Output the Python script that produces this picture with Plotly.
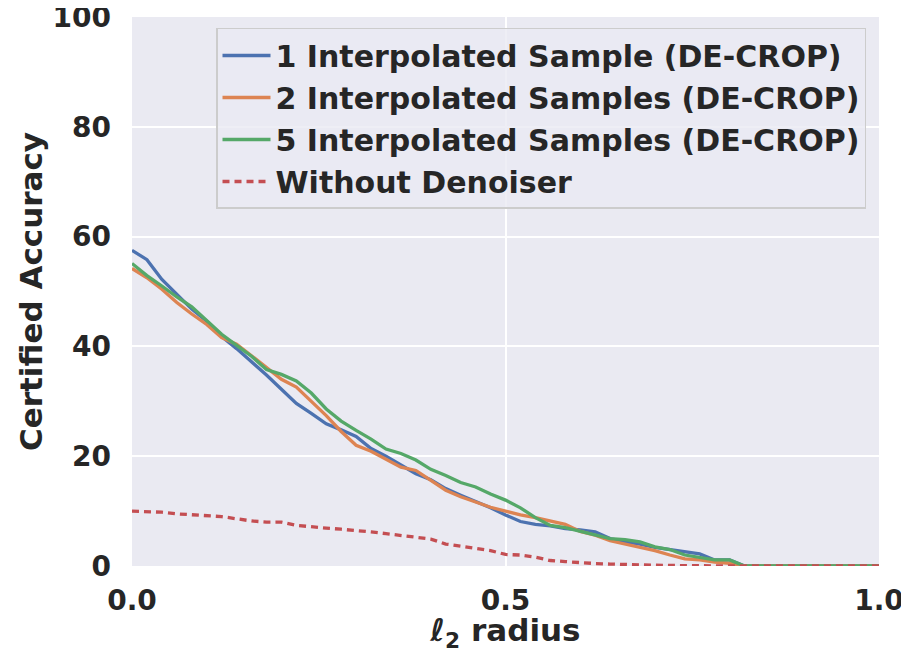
import plotly.graph_objects as go

radius = [round(i * 0.02, 2) for i in range(51)]

acc_1_sample = [57.5, 55.8, 52.2, 49.5, 46.8, 44.6, 41.8, 39.6, 37.2, 34.8,
                32.2, 29.6, 27.8, 25.9, 24.8, 23.6, 21.4, 20.0, 18.4, 16.8,
                15.7, 14.1, 12.9, 11.8, 10.6, 9.3, 8.1, 7.6, 7.3, 6.8,
                6.6, 6.2, 5.0, 4.4, 4.0, 3.4, 3.0, 2.6, 2.2, 1.1,
                1.1, 0, 0, 0, 0, 0, 0, 0, 0, 0, 0]

acc_2_samples = [54.2, 52.5, 50.4, 48.0, 45.9, 44.0, 41.6, 40.4, 38.3, 36.2,
                 34.0, 32.6, 30.0, 27.4, 24.5, 22.0, 20.9, 19.5, 18.0, 17.4,
                 15.6, 13.8, 12.6, 11.7, 10.7, 10.0, 9.3, 8.8, 8.2, 7.6,
                 6.3, 5.6, 4.6, 4.0, 3.5, 2.8, 2.0, 1.3, 1.1, 0.7,
                 0.5, 0, 0, 0, 0, 0, 0, 0, 0, 0, 0]

acc_5_samples = [55.1, 52.9, 51.0, 49.0, 47.2, 44.8, 42.2, 40.2, 38.2, 35.8,
                 34.9, 33.7, 31.5, 28.6, 26.4, 24.7, 23.1, 21.3, 20.5, 19.3,
                 17.6, 16.5, 15.2, 14.4, 13.1, 12.0, 10.6, 8.8, 7.4, 7.0,
                 6.3, 5.7, 5.0, 4.8, 4.4, 3.5, 3.0, 2.0, 1.6, 1.1,
                 1.1, 0, 0, 0, 0, 0, 0, 0, 0, 0, 0]

acc_no_denoiser = [10.0, 9.9, 9.8, 9.5, 9.3, 9.1, 9.0, 8.6, 8.2, 8.0,
                   8.0, 7.4, 7.1, 6.9, 6.7, 6.5, 6.2, 5.9, 5.6, 5.3,
                   4.9, 4.0, 3.6, 3.1, 2.8, 2.1, 2.0, 1.6, 1.0, 0.8,
                   0.6, 0.45, 0.35, 0.25, 0.2, 0.15, 0.1, 0.05, 0, 0,
                   0, 0, 0, 0, 0, 0, 0, 0, 0, 0, 0]

x_ticks = [0, 0.5, 1]
x_tick_labels = ["0.0", "0.5", "1.0"]
y_ticks = [0, 20, 40, 60, 80, 100]

names = ["1 Interpolated Sample (DE-CROP)",
         "2 Interpolated Samples (DE-CROP)",
         "5 Interpolated Samples (DE-CROP)",
         "Without Denoiser"]
colors = ["#4C72B0", "#DD8452", "#55A868", "#C44E52"]
series = [acc_1_sample, acc_2_samples, acc_5_samples, acc_no_denoiser]
dashes = ["solid", "solid", "solid", "7px,5px"]

fig = go.Figure()
for name, ys, c, d in zip(names, series, colors, dashes):
    fig.add_trace(go.Scatter(x=radius, y=ys, mode="lines", name=name,
                             line=dict(color=c, width=3.3, dash=d)))

font_family = "DejaVu Sans"
txt = "#262626"
# the page body adds an 8px offset, so the figure is sized to fill the window
fig.update_layout(
    width=901, height=645,
    margin=dict(l=124, r=30, t=9, b=87),
    paper_bgcolor="white",
    plot_bgcolor="#EAEAF2",
    font=dict(family=font_family, color=txt),
    legend=dict(
        x=0.9826, y=0.98, xanchor="right", yanchor="top",
        bgcolor="rgba(234,234,242,0.8)", bordercolor="#CCCCCC", borderwidth=1.5,
        itemwidth=48,
        font=dict(size=30, family=font_family, color=txt, weight="bold"),
    ),
    showlegend=True,
)
fig.update_xaxes(
    range=[0, 1], tickvals=x_ticks, ticktext=x_tick_labels,
    showgrid=True, gridcolor="white", gridwidth=1.5, zeroline=False,
    showline=False, ticks="", automargin=False, ticklabelstandoff=15,
    ticklabeloverflow="allow",
    tickfont=dict(size=28, family=font_family, color=txt, weight="bold"),
    title=dict(text="ℓ<sub>2</sub> radius", standoff=20,
               font=dict(size=31, family=font_family, color=txt, weight="bold")),
)
fig.update_yaxes(
    range=[0, 100], tickvals=y_ticks,
    showgrid=True, gridcolor="white", gridwidth=1.5, zeroline=False,
    showline=False, ticks="", automargin=False, ticklabelstandoff=20,
    ticklabeloverflow="allow",
    tickfont=dict(size=28, family=font_family, color=txt, weight="bold"),
    title=dict(text="Certified Accuracy", standoff=0,
               font=dict(size=31, family=font_family, color=txt, weight="bold")),
)

fig.write_html("out.html")
